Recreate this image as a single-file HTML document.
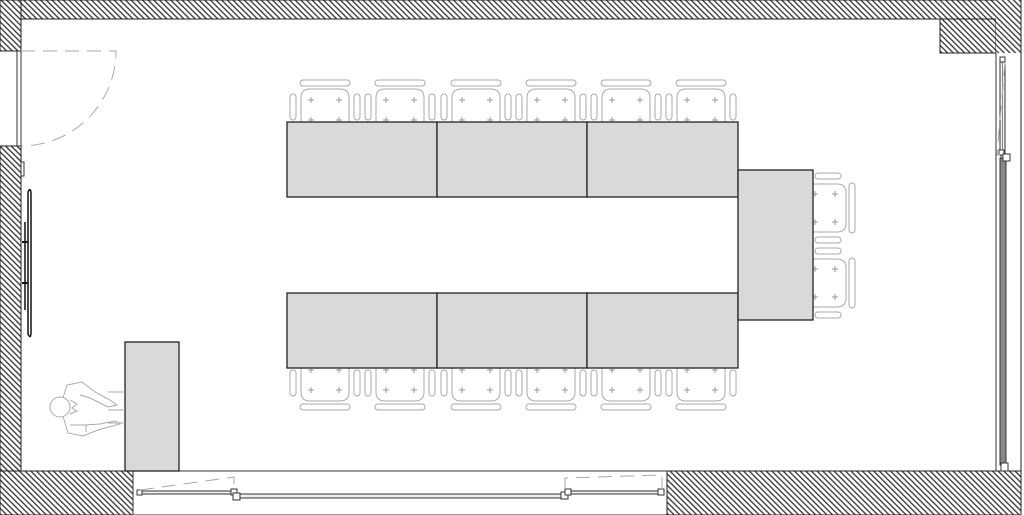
<!DOCTYPE html>
<html><head><meta charset="utf-8"><style>html,body{margin:0;padding:0;background:#fff}svg{display:block}</style></head>
<body>
<svg width="1024" height="515" viewBox="0 0 1024 515" xmlns="http://www.w3.org/2000/svg">
<defs>
<pattern id="h" width="4" height="4" patternUnits="userSpaceOnUse" patternTransform="rotate(-45)">
<rect width="4" height="4" fill="#fff"/><rect width="1.3" height="4" fill="#333"/>
</pattern>
<g id="chair" fill="none" stroke="#aaa" stroke-width="1">
<rect x="-25" y="-42" width="50" height="6" rx="3"/>
<path d="M-24,0 V-24 Q-24,-33 -15,-33 H15 Q24,-33 24,-24 V0"/>
<rect x="-35" y="-28" width="6" height="26" rx="3"/>
<rect x="29" y="-28" width="6" height="26" rx="3"/>
<path d="M-17,-22h6M-14,-25v6M11,-22h6M14,-25v6M-17,-2h6M-14,-5v6M11,-2h6M14,-5v6" stroke="#999"/>
</g>
</defs>
<!-- walls -->
<g stroke="#222" stroke-width="1">
<rect x="0" y="0" width="1021" height="19" fill="url(#h)"/>
<rect x="0" y="0" width="21" height="51" fill="url(#h)"/>
<rect x="0" y="146" width="21" height="325" fill="url(#h)"/>
<rect x="0" y="471" width="133" height="44" fill="url(#h)"/>
<rect x="667" y="471" width="354" height="44" fill="url(#h)"/>
<rect x="940" y="19" width="56" height="34" fill="url(#h)"/>
<rect x="996" y="0" width="25" height="53" fill="url(#h)" stroke="none"/>
<path d="M21,19 H940 M21,19 V51 M21,146 V471 H133 M667,471 H996 M1021,0 V515" fill="none"/>
</g>
<!-- left door -->
<g fill="none">
<rect x="17" y="51" width="4" height="95" stroke="#333"/>
<path d="M21,51 H116 A95,95 0 0 1 21,146" stroke="#aaa" stroke-dasharray="14,8"/>
<rect x="21" y="162" width="3" height="14" stroke="#333"/>
</g>
<!-- TV -->
<g fill="none" stroke="#111">
<path d="M28,192 Q31,186 31,195 V332 Q31,340 28,334 Z" stroke-width="1.5"/>
<path d="M22,242 h6 M22,283 h6" stroke-width="2"/>
<path d="M25,222 V310" stroke-width="1.5"/>
</g>
<!-- right window -->
<g fill="none" stroke="#333">
<path d="M996,53 V471 M1001,60 V470"/>
<rect x="1000" y="60" width="5" height="94" fill="#f2f2f2"/>
<line x1="1002.5" y1="62" x2="1002.5" y2="152" stroke="#888"/>
<rect x="1000" y="158" width="6" height="307" fill="#888"/>
<rect x="1000" y="57" width="5" height="5" fill="#fff"/>
<rect x="999" y="150" width="5" height="5" fill="#fff"/>
<rect x="1003" y="154" width="7" height="7" fill="#fff"/>
<rect x="1001" y="463" width="7" height="8" fill="#fff"/>
<path d="M1005,62 L997,155 L1000,155" stroke="#aaa" stroke-dasharray="14,8"/>
</g>
<!-- bottom window -->
<g fill="none" stroke="#333">
<path d="M133,471 H667 M133,471 V515 M133,515 H667"/>
<rect x="140" y="491" width="92" height="3" fill="#f2f2f2"/>
<rect x="238" y="494" width="326" height="4" fill="#eee"/>
<rect x="568" y="491" width="92" height="3" fill="#f2f2f2"/>
<rect x="137" y="490" width="5" height="5" fill="#fff"/>
<rect x="231" y="489" width="6" height="6" fill="#fff"/>
<rect x="233" y="493" width="7" height="7" fill="#fff"/>
<rect x="561" y="492" width="7" height="7" fill="#fff"/>
<rect x="565" y="489" width="6" height="6" fill="#fff"/>
<rect x="658" y="489" width="6" height="6" fill="#fff"/>
<path d="M565,489 V478 L662,475 V489" stroke="#aaa" stroke-dasharray="14,8"/>
<path d="M140,490 L234,477 V489" stroke="#aaa" stroke-dasharray="14,8"/>
</g>
<!-- chairs -->
<use href="#chair" transform="translate(325,122)"/>
<use href="#chair" transform="translate(400,122)"/>
<use href="#chair" transform="translate(476,122)"/>
<use href="#chair" transform="translate(551,122)"/>
<use href="#chair" transform="translate(626,122)"/>
<use href="#chair" transform="translate(701,122)"/>
<use href="#chair" transform="translate(325,368) scale(1,-1)"/>
<use href="#chair" transform="translate(400,368) scale(1,-1)"/>
<use href="#chair" transform="translate(476,368) scale(1,-1)"/>
<use href="#chair" transform="translate(551,368) scale(1,-1)"/>
<use href="#chair" transform="translate(626,368) scale(1,-1)"/>
<use href="#chair" transform="translate(701,368) scale(1,-1)"/>
<use href="#chair" transform="translate(813,208) rotate(90)"/>
<use href="#chair" transform="translate(813,283) rotate(90)"/>
<!-- tables -->
<g fill="#d9d9d9" stroke="#222" stroke-width="1.3">
<rect x="287" y="122" width="150" height="75"/>
<rect x="437" y="122" width="150" height="75"/>
<rect x="587" y="122" width="151" height="75"/>
<rect x="287" y="293" width="150" height="75"/>
<rect x="437" y="293" width="150" height="75"/>
<rect x="587" y="293" width="151" height="75"/>
<rect x="738" y="170" width="75" height="150"/>
<rect x="125" y="342" width="54" height="129"/>
</g>
<!-- person -->
<g fill="none" stroke="#aaa" stroke-width="1">
<circle cx="60" cy="407" r="10"/>
<path d="M70,400 L77,404 L72,408 L77,411 L70,414"/>
<path d="M108,392 H125 M108,410 H125 M108,423 H125"/>
<path d="M63,398 L67,385 L82,382 L95,392 L110,400 L117,405 L108,407 L90,398 L80,395"/>
<path d="M63,416 L68,433 L83,436 L98,430 L120,424 L115,421 L100,424 L85,425 L70,425"/>
<path d="M86,425 L86,432"/>
</g>
</svg>
</body></html>
